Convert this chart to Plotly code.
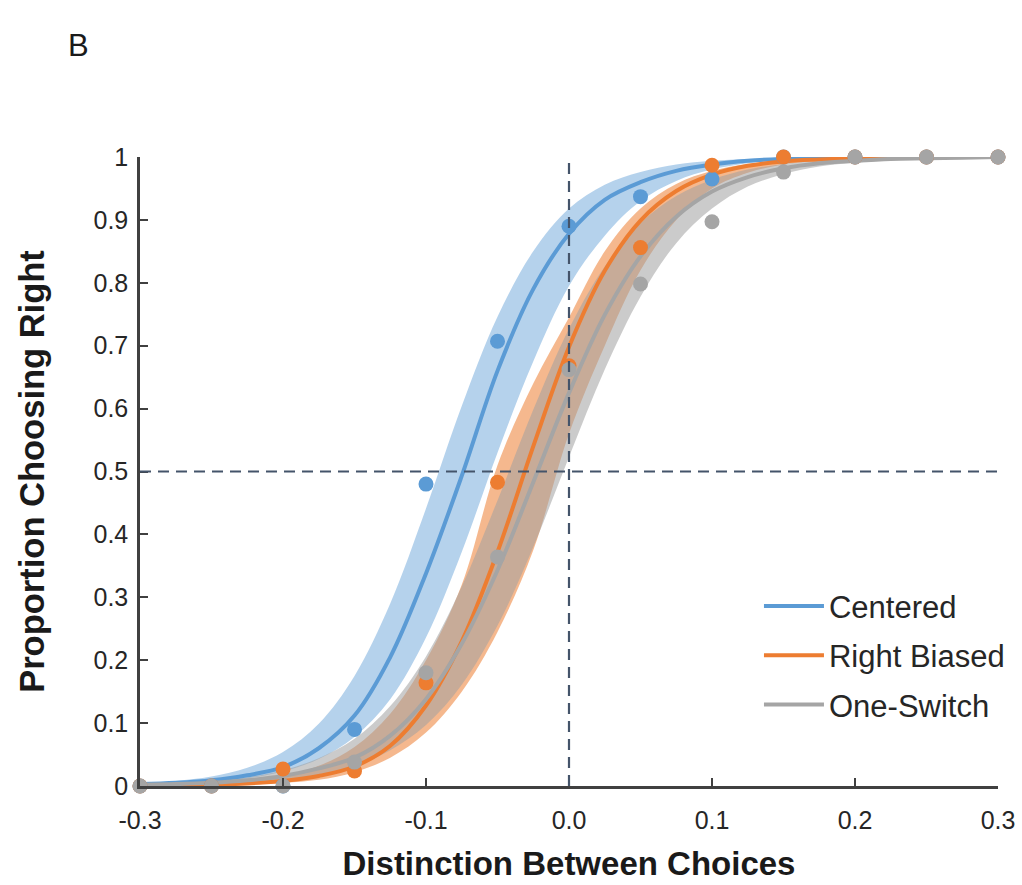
import plotly.graph_objects as go

# ---------------- data ----------------
x_pts = [-0.3, -0.25, -0.2, -0.15, -0.1, -0.05, 0.0, 0.05, 0.1, 0.15, 0.2, 0.25, 0.3]
centered_pts = [0.0, 0.0, 0.0, 0.09, 0.48, 0.707, 0.89, 0.937, 0.965, 1.0, 1.0, 1.0, 1.0]
right_pts = [0.0, 0.0, 0.027, 0.024, 0.164, 0.483, 0.668, 0.856, 0.987, 1.0, 1.0, 1.0, 1.0]
switch_pts = [0.0, 0.0, 0.0, 0.038, 0.18, 0.364, 0.662, 0.798, 0.897, 0.976, 1.0, 1.0, 1.0]

x_fit = [-0.3, -0.275, -0.25, -0.225, -0.2, -0.175, -0.15, -0.125, -0.1, -0.075, -0.05, -0.025,
         0.0, 0.025, 0.05, 0.075, 0.1, 0.125, 0.15, 0.175, 0.2, 0.225, 0.25, 0.275, 0.3]

centered_fit = [0.003, 0.005, 0.009, 0.017, 0.030, 0.060, 0.112, 0.205, 0.338, 0.493, 0.66, 0.79,
                0.878, 0.932, 0.96, 0.978, 0.988, 0.994, 0.997, 0.998, 0.999, 1.0, 1.0, 1.0, 1.0]
centered_hi = [0.004, 0.008, 0.015, 0.029, 0.054, 0.099, 0.175, 0.290, 0.441, 0.604, 0.746, 0.850,
               0.918, 0.956, 0.976, 0.988, 0.994, 0.997, 0.998, 0.999, 1.0, 1.0, 1.0, 1.0, 1.0]
centered_lo = [0.002, 0.003, 0.006, 0.012, 0.023, 0.043, 0.078, 0.138, 0.236, 0.372, 0.53, 0.675,
               0.795, 0.875, 0.93, 0.962, 0.98, 0.99, 0.995, 0.998, 0.999, 0.999, 1.0, 1.0, 1.0]

right_fit = [0.001, 0.001, 0.002, 0.004, 0.008, 0.016, 0.031, 0.064, 0.128, 0.230, 0.372, 0.540,
             0.698, 0.819, 0.899, 0.946, 0.972, 0.986, 0.993, 0.996, 0.998, 0.999, 1.0, 1.0, 1.0]
right_hi = [0.001, 0.002, 0.004, 0.008, 0.016, 0.032, 0.062, 0.115, 0.200, 0.320, 0.510, 0.640,
            0.745, 0.850, 0.918, 0.957, 0.978, 0.989, 0.994, 0.997, 0.999, 0.999, 1.0, 1.0, 1.0]
right_lo = [0.0, 0.0, 0.001, 0.002, 0.005, 0.010, 0.022, 0.045, 0.085, 0.150, 0.245, 0.375,
            0.560, 0.700, 0.820, 0.900, 0.950, 0.975, 0.988, 0.994, 0.997, 0.999, 0.999, 1.0, 1.0]

switch_fit = [0.002, 0.003, 0.005, 0.009, 0.016, 0.028, 0.045, 0.080, 0.138, 0.226, 0.343, 0.483,
              0.625, 0.749, 0.842, 0.905, 0.945, 0.968, 0.982, 0.990, 0.994, 0.997, 0.998, 0.999, 1.0]
switch_hi = [0.003, 0.004, 0.008, 0.014, 0.025, 0.044, 0.075, 0.127, 0.206, 0.317, 0.454, 0.598,
             0.727, 0.826, 0.895, 0.938, 0.964, 0.980, 0.989, 0.994, 0.996, 0.998, 0.999, 0.999, 1.0]
switch_lo = [0.001, 0.002, 0.003, 0.006, 0.010, 0.018, 0.032, 0.057, 0.097, 0.161, 0.255, 0.380,
             0.523, 0.662, 0.778, 0.863, 0.918, 0.953, 0.973, 0.985, 0.991, 0.995, 0.997, 0.999, 0.999]

x_ticks = [-0.3, -0.2, -0.1, 0.0, 0.1, 0.2, 0.3]
x_tick_labels = ["-0.3", "-0.2", "-0.1", "0.0", "0.1", "0.2", "0.3"]
y_ticks = [0, 0.1, 0.2, 0.3, 0.4, 0.5, 0.6, 0.7, 0.8, 0.9, 1]
y_tick_labels = ["0", "0.1", "0.2", "0.3", "0.4", "0.5", "0.6", "0.7", "0.8", "0.9", "1"]

series = [
    ("Centered", centered_pts, centered_fit, centered_hi, centered_lo, "#5B9BD5", "rgba(91,155,213,0.45)"),
    ("Right Biased", right_pts, right_fit, right_hi, right_lo, "#ED7D31", "rgba(237,125,49,0.55)"),
    ("One-Switch", switch_pts, switch_fit, switch_hi, switch_lo, "#A5A5A5", "rgba(160,160,160,0.55)"),
]

FONT = "Liberation Sans, Arial, sans-serif"

fig = go.Figure()

# confidence bands
for name, pts, fit, hi, lo, col, fillcol in series:
    fig.add_trace(go.Scatter(x=x_fit, y=lo, mode="lines", line=dict(width=0, shape="spline"),
                             showlegend=False, hoverinfo="skip"))
    fig.add_trace(go.Scatter(x=x_fit, y=hi, mode="lines", line=dict(width=0, shape="spline"),
                             fill="tonexty", fillcolor=fillcol, showlegend=False, hoverinfo="skip"))

# fitted lines
for name, pts, fit, hi, lo, col, fillcol in series:
    fig.add_trace(go.Scatter(x=x_fit, y=fit, mode="lines", name=name,
                             line=dict(color=col, width=4, shape="spline"),
                             legendgroup=name, cliponaxis=False))

# observed points
for name, pts, fit, hi, lo, col, fillcol in series:
    fig.add_trace(go.Scatter(x=x_pts, y=pts, mode="markers", name=name,
                             marker=dict(color=col, size=15), showlegend=False,
                             legendgroup=name, cliponaxis=False))

# reference lines
fig.add_shape(type="line", xref="x", yref="y", x0=0, x1=0, y0=0, y1=1.012,
              line=dict(color="#44546A", width=2.2, dash="11px,7px"))
fig.add_shape(type="line", xref="x", yref="y", x0=-0.3, x1=0.3, y0=0.5, y1=0.5,
              line=dict(color="#44546A", width=2.2, dash="11px,7px"))

fig.add_annotation(text="B", xref="paper", yref="paper", x=-0.072, y=1.178,
                   xanchor="center", yanchor="middle", showarrow=False,
                   font=dict(family=FONT, size=31, color="#1a1a1a"))

fig.update_layout(
    width=1022, height=885,
    margin=dict(l=140, r=24, t=157, b=99),
    paper_bgcolor="white", plot_bgcolor="white",
    font=dict(family=FONT, color="#262626"),
    showlegend=True,
    legend=dict(x=0.7214, y=0.3285, xanchor="left", yanchor="top",
                font=dict(family=FONT, size=31, color="#262626"),
                tracegroupgap=6, bgcolor="rgba(0,0,0,0)", itemwidth=60),
    xaxis=dict(range=[-0.3, 0.3], tickvals=x_ticks, ticktext=x_tick_labels,
               automargin=False,
               showgrid=False, zeroline=False, showline=True, linecolor="#404040", linewidth=2.5,
               ticks="inside", ticklen=8, tickwidth=2, tickcolor="#404040",
               ticklabelstandoff=10,
               tickfont=dict(family=FONT, size=25, color="#262626"),
               title=dict(text="<b>Distinction Between Choices</b>",
                          font=dict(family=FONT, size=33, color="#1a1a1a"), standoff=20)),
    yaxis=dict(range=[0, 1], tickvals=y_ticks, ticktext=y_tick_labels,
               automargin=False,
               showgrid=False, zeroline=False, showline=True, linecolor="#404040", linewidth=2.5,
               ticks="inside", ticklen=8, tickwidth=2, tickcolor="#404040",
               ticklabelstandoff=4,
               tickfont=dict(family=FONT, size=25, color="#262626"),
               title=dict(text="<b>Proportion Choosing Right</b>",
                          font=dict(family=FONT, size=34.5, color="#1a1a1a"), standoff=39)),
)

fig.write_html("out.html")
